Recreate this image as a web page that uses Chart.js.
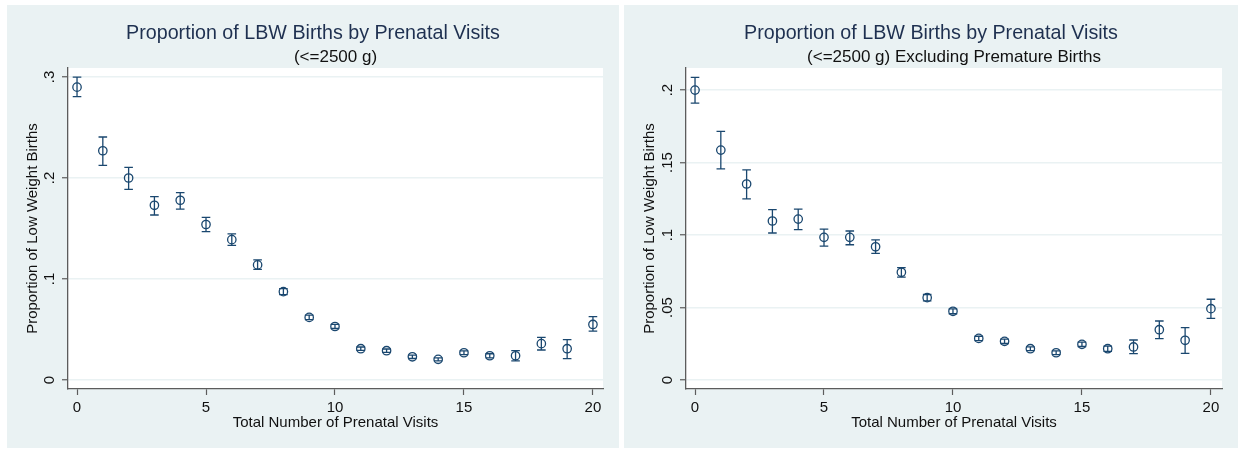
<!DOCTYPE html>
<html>
<head>
<meta charset="utf-8">
<script src="https://cdn.jsdelivr.net/npm/chart.js@4.4.0/dist/chart.umd.min.js"></script>
<style>
  body { margin: 0; background: #fff; width: 1238px; height: 449px; position: relative; overflow: hidden; }
  .panel { position: absolute; top: 5px; height: 443px; background: #eaf2f3; }
</style>
</head>
<body>
<div class="panel" style="left:7px;width:612px"><canvas id="chartAll"></canvas></div>
<div class="panel" style="left:624px;width:614px"><canvas id="chartExcl"></canvas></div>
<script>
// x categories: number of prenatal visits
const visits = [0, 1, 2, 3, 4, 5, 6, 7, 8, 9, 10, 11, 12, 13, 14, 15, 16, 17, 18, 19, 20];

// left panel: all LBW births (<=2500 g)
const propAll = [0.290, 0.227, 0.200, 0.173, 0.178, 0.154, 0.139, 0.114, 0.0875, 0.062, 0.053,
  0.031, 0.029, 0.023, 0.0205, 0.027, 0.024, 0.024, 0.036, 0.031, 0.055];
const loAll = [0.2805, 0.2126, 0.1888, 0.1634, 0.1693, 0.1469, 0.1333, 0.1095, 0.0845, 0.0597, 0.0510,
  0.0293, 0.0273, 0.0213, 0.0190, 0.0252, 0.0220, 0.0190, 0.0297, 0.0211, 0.0485];
const hiAll = [0.300, 0.2406, 0.2106, 0.1815, 0.1855, 0.1611, 0.1446, 0.1189, 0.0905, 0.0643, 0.0550,
  0.0327, 0.0307, 0.0247, 0.0220, 0.0288, 0.0260, 0.0290, 0.0422, 0.0399, 0.0627];

// right panel: excluding premature births
const propExcl = [0.200, 0.1586, 0.1352, 0.1097, 0.1110, 0.0984, 0.0984, 0.0919, 0.0743, 0.0568, 0.0474,
  0.0287, 0.0267, 0.0216, 0.0188, 0.0246, 0.0216, 0.0228, 0.0347, 0.0274, 0.0492];
const loExcl = [0.1910, 0.1457, 0.1250, 0.1014, 0.1037, 0.0924, 0.0933, 0.0874, 0.0710, 0.0546, 0.0457,
  0.0272, 0.0252, 0.0203, 0.0175, 0.0231, 0.0198, 0.0182, 0.0285, 0.0184, 0.0425];
const hiExcl = [0.2088, 0.1715, 0.1450, 0.1175, 0.1179, 0.1041, 0.1028, 0.0966, 0.0775, 0.0590, 0.0491,
  0.0302, 0.0282, 0.0229, 0.0201, 0.0261, 0.0234, 0.0276, 0.0407, 0.0361, 0.0557];

// tick values and labels
const xTicks = [0, 5, 10, 15, 20];
const xTickLabels = ['0', '5', '10', '15', '20'];
const yTicksAll = [0, 0.1, 0.2, 0.3];
const yTickLabelsAll = ['0', '.1', '.2', '.3'];
const yTicksExcl = [0, 0.05, 0.1, 0.15, 0.2];
const yTickLabelsExcl = ['0', '.05', '.1', '.15', '.2'];

const navy = '#1a476f';
const axisGray = '#5c5c5c';
const fontFam = "'Liberation Sans', Arial, sans-serif";

function plotBg() {
  return {
    id: 'plotBg',
    beforeDraw(chart) {
      const a = chart.chartArea, ctx = chart.ctx;
      ctx.save();
      ctx.fillStyle = '#ffffff';
      ctx.fillRect(a.left, a.top, a.right - a.left, a.bottom - a.top);
      ctx.restore();
    }
  };
}

function errorBars(lo, hi) {
  return {
    id: 'errorBars',
    beforeDatasetsDraw(chart) {
      const xs = chart.scales.x, ys = chart.scales.y, ctx = chart.ctx;
      ctx.save();
      ctx.strokeStyle = navy;
      ctx.lineWidth = 1.3;
      visits.forEach((v, i) => {
        const x = xs.getPixelForValue(v);
        const y1 = ys.getPixelForValue(lo[i]);
        const y2 = ys.getPixelForValue(hi[i]);
        ctx.beginPath();
        ctx.moveTo(x, y1); ctx.lineTo(x, y2);
        ctx.moveTo(x - 4.3, y1); ctx.lineTo(x + 4.3, y1);
        ctx.moveTo(x - 4.3, y2); ctx.lineTo(x + 4.3, y2);
        ctx.stroke();
      });
      ctx.restore();
    }
  };
}

function makeChart(id, cfg) {
  new Chart(document.getElementById(id), {
    type: 'scatter',
    data: {
      datasets: [{
        data: visits.map((v, i) => ({ x: v, y: cfg.values[i] })),
        pointStyle: 'circle',
        pointRadius: 4.2,
        borderWidth: 1.3,
        borderColor: navy,
        backgroundColor: 'rgba(0,0,0,0)'
      }]
    },
    plugins: [plotBg(), errorBars(cfg.lo, cfg.hi)],
    options: {
      responsive: true,
      maintainAspectRatio: false,
      devicePixelRatio: 1,
      animation: false,
      events: [],
      layout: { padding: 0 },
      plugins: {
        legend: { display: false },
        tooltip: { enabled: false },
        title: {
          display: true,
          text: 'Proportion of LBW Births by Prenatal Visits',
          color: '#1e3050',
          font: { family: fontFam, size: 19.7, weight: 'normal' },
          padding: { top: 16.5, bottom: 2 }
        },
        subtitle: {
          display: true,
          text: cfg.subtitle,
          fullSize: false,
          color: '#111',
          font: { family: fontFam, size: 17, weight: 'normal' },
          padding: { top: 0, bottom: 0.5 }
        }
      },
      scales: {
        x: {
          type: 'linear',
          min: -0.35,
          max: cfg.xMax,
          afterBuildTicks: s => { s.ticks = xTicks.map(v => ({ value: v })); },
          afterFit: s => { s.height = 59; },
          ticks: {
            autoSkip: false,
            maxRotation: 0,
            padding: 4,
            color: '#111',
            font: { family: fontFam, size: 15 },
            callback: v => xTickLabels[xTicks.indexOf(v)]
          },
          grid: { drawOnChartArea: false, tickLength: 6, tickColor: axisGray, tickWidth: 1.2 },
          border: { display: true, color: axisGray, width: 1.3 },
          title: {
            display: true,
            text: 'Total Number of Prenatal Visits',
            color: '#111',
            font: { family: fontFam, size: 15 },
            padding: { top: 0, bottom: 16 }
          }
        },
        y: {
          type: 'linear',
          min: cfg.yMin,
          max: cfg.yMax,
          afterBuildTicks: s => { s.ticks = cfg.yTicks.map(v => ({ value: v })); },
          afterFit: s => { s.width = cfg.yWidth; },
          ticks: {
            minRotation: 90,
            maxRotation: 90,
            crossAlign: 'center',
            padding: cfg.yPad,
            color: '#111',
            font: { family: fontFam, size: 15 },
            callback: v => cfg.yLabels[cfg.yTicks.indexOf(v)]
          },
          grid: { color: '#eaf2f3', lineWidth: 1.5, tickLength: 6, tickColor: axisGray, tickWidth: 1.2 },
          border: { display: true, color: axisGray, width: 1.3 },
          title: {
            display: true,
            text: 'Proportion of Low Weight Births',
            color: '#111',
            font: { family: fontFam, size: 15 },
            padding: { top: 17, bottom: 0 }
          }
        },
        // empty right-hand margin of the graph region
        yMargin: {
          type: 'linear',
          position: 'right',
          display: true,
          afterFit: s => { s.width = 16; },
          ticks: { display: false },
          grid: { display: false },
          border: { display: false }
        }
      }
    }
  });
}

makeChart('chartAll', {
  values: propAll, lo: loAll, hi: hiAll,
  subtitle: '(<=2500 g)',
  xMax: 20.39,
  yMin: -0.0089, yMax: 0.3089,
  yTicks: yTicksAll, yLabels: yTickLabelsAll,
  yWidth: 61, yPad: 5.75
});

makeChart('chartExcl', {
  values: propExcl, lo: loExcl, hi: hiExcl,
  subtitle: '(<=2500 g) Excluding Premature Births',
  xMax: 20.43,
  yMin: -0.0062, yMax: 0.2152,
  yTicks: yTicksExcl, yLabels: yTickLabelsExcl,
  yWidth: 62, yPad: 1.6
});
</script>
</body>
</html>
